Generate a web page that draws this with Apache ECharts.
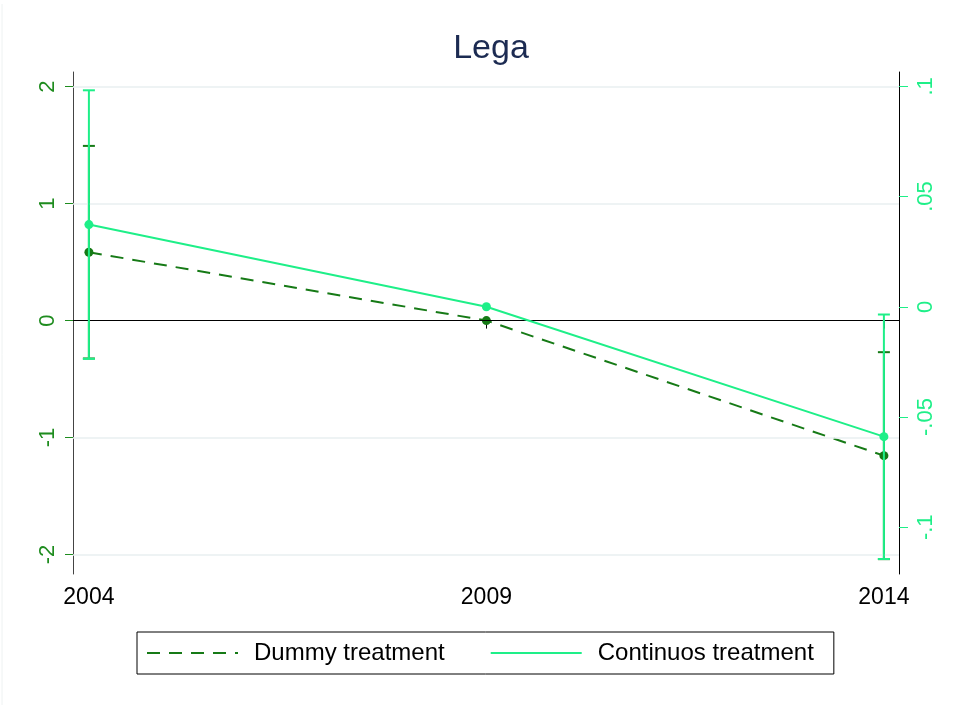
<!DOCTYPE html>
<html>
<head>
<meta charset="utf-8">
<script src="https://cdn.jsdelivr.net/npm/echarts@6/dist/echarts.min.js"></script>
<style>
  html, body { margin: 0; padding: 0; background: #fff; }
  #chart { width: 970px; height: 707px; }
</style>
</head>
<body>
<div id="chart"></div>
<script>
const years = [2004, 2009, 2014]
const leftTicks = [-2, -1, 0, 1, 2]
const rightTicks = [-0.1, -0.05, 0, 0.05, 0.1]

// dummy treatment (left axis): estimate, lower, upper
const dummyEst = [0.585, 0, -1.155]
const dummyLow = [-0.324, 0, -2.04]
const dummyHigh = [1.494, 0, -0.27]

// continuous treatment (right axis)
const contEst = [0.0373, 0, -0.0589]
const contLow = [-0.0236, 0, -0.1144]
const contHigh = [0.0982, 0, -0.0035]

const darkGreen = '#167a16'
const lightGreen = '#1eef88'

const chart = echarts.init(document.getElementById('chart'))

function errorBars(low, high) {
  return years.map((y, i) => [y, low[i], high[i]]).filter(d => d[1] !== d[2])
}

function renderBar(color) {
  return function (params, api) {
    const x = api.value(0)
    const lo = api.coord([x, api.value(1)])
    const hi = api.coord([x, api.value(2)])
    const cap = 6
    const style = { stroke: color, lineWidth: 2 }
    return {
      type: 'group',
      children: [
        { type: 'line', shape: { x1: lo[0], y1: lo[1], x2: hi[0], y2: hi[1] }, style },
        { type: 'line', shape: { x1: lo[0] - cap, y1: lo[1], x2: lo[0] + cap, y2: lo[1] }, style },
        { type: 'line', shape: { x1: hi[0] - cap, y1: hi[1], x2: hi[0] + cap, y2: hi[1] }, style },
      ],
    }
  }
}

const option = {
  animation: false,
  backgroundColor: '#fff',
  title: {
    text: 'Lega',
    left: 486,
    textAlign: 'center',
    top: 27,
    textStyle: { fontFamily: 'Liberation Sans', fontSize: 34, fontWeight: 'normal', color: '#1c2b52' },
  },
  grid: { left: 73, right: 71, top: 72, bottom: 133 },
  legend: {
    left: 137,
    top: 632,
    orient: 'horizontal',
    borderColor: '#000',
    borderWidth: 1,
    borderRadius: 0,
    padding: [9, 20, 9, 9],
    itemWidth: 91,
    itemHeight: 14,
    itemGap: 45,
    textStyle: { fontFamily: 'Liberation Sans', fontSize: 24, color: '#000', padding: [0, 0, 0, 11] },
    data: [
      { name: 'Dummy treatment', itemStyle: { opacity: 0 } },
      { name: 'Continuos treatment', itemStyle: { opacity: 0 } },
    ],
  },
  xAxis: {
    type: 'value',
    min: 2003.8,
    max: 2014.19,
    axisLine: { lineStyle: { color: '#000', width: 1 } },
    axisTick: { show: true, length: 8, customValues: years, lineStyle: { color: '#000' } },
    axisLabel: {
      customValues: years,
      margin: 12,
      fontFamily: 'Liberation Sans',
      fontSize: 23,
      color: '#000',
      formatter: v => String(v),
    },
    splitLine: { show: false },
  },
  yAxis: [
    {
      type: 'value',
      position: 'left',
      min: -2.167,
      max: 2.126,
      axisLine: { show: true, lineStyle: { color: '#444', width: 1 } },
      axisTick: { show: true, length: 8, customValues: leftTicks, lineStyle: { color: '#1e8c1e', width: 1 } },
      axisLabel: {
        customValues: leftTicks,
        rotate: 90,
        margin: 14,
        fontFamily: 'Liberation Sans',
        fontSize: 22,
        color: '#1e8c1e',
      },
      splitLine: { show: false },
    },
    {
      type: 'value',
      position: 'right',
      min: -0.1212,
      max: 0.1065,
      axisLine: { show: true, lineStyle: { color: '#000', width: 1 } },
      axisTick: { show: true, length: 9, customValues: rightTicks, lineStyle: { color: lightGreen, width: 1 } },
      axisLabel: {
        customValues: rightTicks,
        rotate: 90,
        margin: 16,
        fontFamily: 'Liberation Sans',
        fontSize: 22,
        color: lightGreen,
        formatter: v => {
          if (Math.abs(v) < 1e-9) return '0'
          return String(+v.toFixed(2)).replace('0.', '.')
        },
      },
      splitLine: { show: false },
    },
  ],
  graphic: [
    { type: 'line', shape: { x1: 2, y1: 4, x2: 2, y2: 705 }, style: { stroke: '#eef2f2', lineWidth: 1 } },
  ],
  series: [
    {
      name: 'grid',
      type: 'line',
      yAxisIndex: 0,
      data: [],
      silent: true,
      markLine: {
        symbol: 'none',
        silent: true,
        label: { show: false },
        data: leftTicks.map(v => ({
          yAxis: v,
          lineStyle: v === 0 ? { color: '#000', width: 1, type: 'solid' } : { color: '#e8eff0', width: 1.5, type: 'solid' },
        })),
      },
    },
    {
      name: 'dummyCI',
      type: 'custom',
      yAxisIndex: 0,
      renderItem: renderBar(darkGreen),
      data: errorBars(dummyLow, dummyHigh),
      z: 3,
    },
    {
      name: 'Dummy treatment',
      type: 'line',
      yAxisIndex: 0,
      data: years.map((y, i) => [y, dummyEst[i]]),
      symbol: 'circle',
      symbolSize: 9,
      color: darkGreen,
      itemStyle: { color: darkGreen },
      lineStyle: { color: darkGreen, width: 2, type: [13, 9] },
      z: 4,
    },
    {
      name: 'contCI',
      type: 'custom',
      yAxisIndex: 1,
      renderItem: renderBar(lightGreen),
      data: errorBars(contLow, contHigh),
      z: 5,
    },
    {
      name: 'Continuos treatment',
      type: 'line',
      yAxisIndex: 1,
      data: years.map((y, i) => [y, contEst[i]]),
      symbol: 'circle',
      symbolSize: 9,
      color: lightGreen,
      itemStyle: { color: lightGreen },
      lineStyle: { color: lightGreen, width: 2, type: 'solid' },
      z: 6,
    },
  ],
}

chart.setOption(option)
</script>
</body>
</html>
